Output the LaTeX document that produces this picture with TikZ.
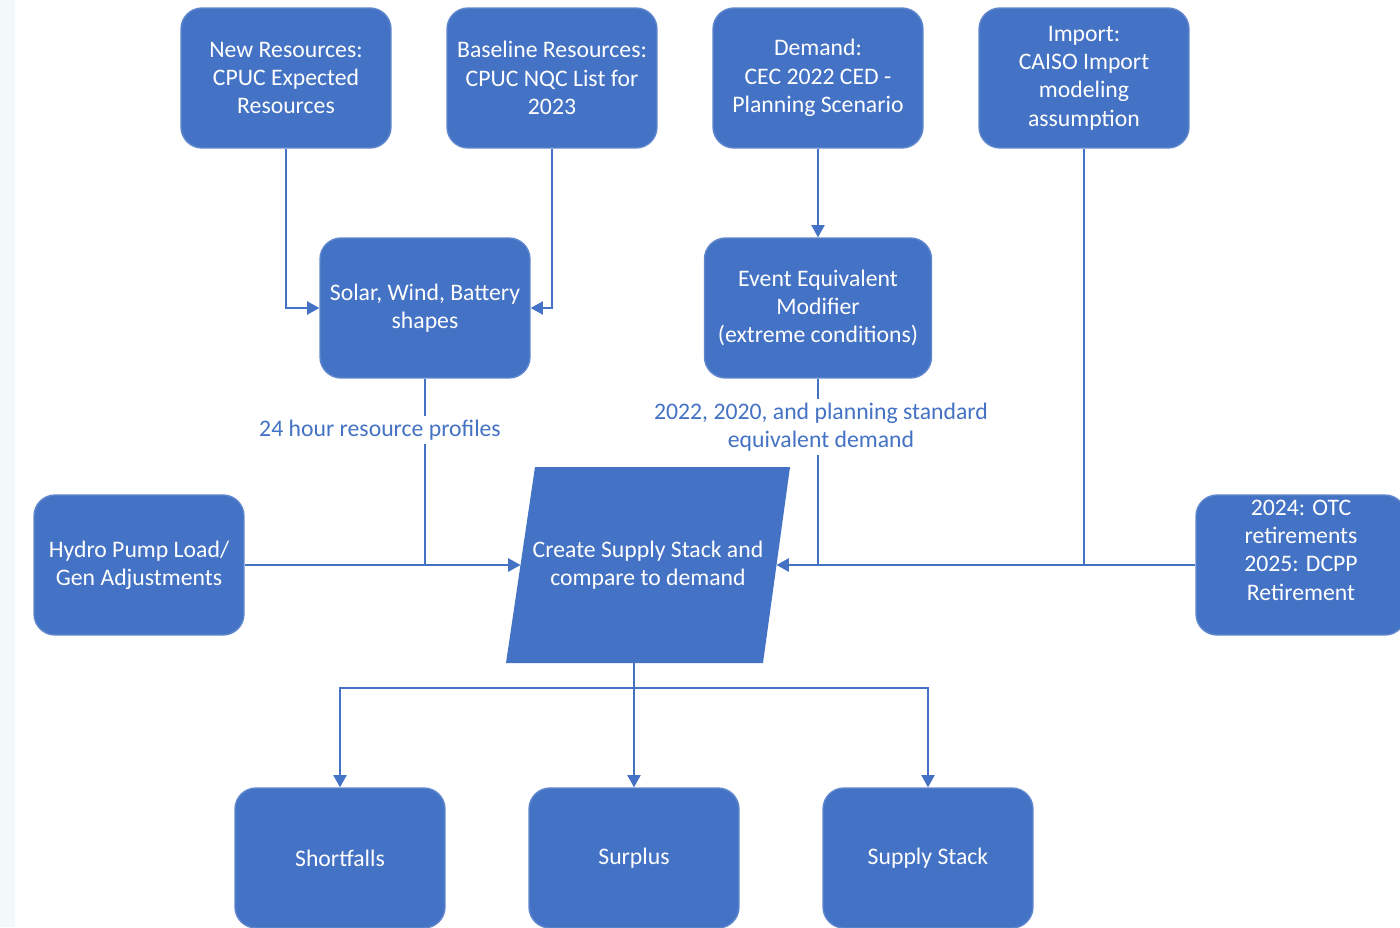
\documentclass[tikz,border=0pt]{standalone}
\usepackage{fontspec}
\setmainfont{Carlito}
\usetikzlibrary{arrows.meta}
\definecolor{boxblue}{HTML}{4472C4}
\definecolor{edgeband}{HTML}{F3F8F9}
\tikzset{
  txt/.style={font=\fontsize{13.5}{16.1}\selectfont},
  box/.style={draw=boxblue!85!white, line width=0.8pt, fill=boxblue, rounded corners=0.42cm,
    minimum width=4.2cm, minimum height=2.8cm, text=white, align=center, txt, inner sep=1pt},
  conn/.style={draw=boxblue, line width=1.1pt},
  arr/.style={conn, -{Triangle[length=7pt,width=7.5pt]}},
  lbl/.style={fill=white, text=boxblue, align=center, inner sep=2pt, txt}
}
\begin{document}
\begin{tikzpicture}[x=0.02cm,y=-0.02cm]
\useasboundingbox (0,0) rectangle (1400,927);
\clip (0,0) rectangle (1400,927);
\fill[white] (0,0) rectangle (1400,927);
\fill[edgeband] (0,0) rectangle (15,927);
% top row
\node[box] (newres) at (286,78) {New Resources:\\CPUC Expected\\Resources};
\node[box] (base) at (552,78) {Baseline Resources:\\CPUC NQC List for\\2023};
\node[box] (demand) at (818,78) {Demand:\\CEC 2022 CED -\\Planning Scenario};
\node[box] (import) at (1084,78) {Import:\\CAISO Import\\modeling\\assumption};
% second row
\node[box] (shapes) at (425,308) {Solar, Wind, Battery\\shapes};
\node[box, minimum width=4.54cm] (event) at (818,308) {Event Equivalent\\Modifier\\(extreme conditions)};
% middle row
\node[box] (hydro) at (139,565) {Hydro Pump Load/\\Gen Adjustments};
\node[box] (retire) at (1301,565) {};
\node[text=white, align=center, txt, inner sep=0pt] (retiretxt) at (1301,550) {2024: OTC\\retirements\\2025: DCPP\\Retirement};
% parallelogram
\fill[boxblue] (535,467) -- (790,467) -- (763,663) -- (506,663) -- cycle;
\node[text=white, align=center, txt] (stack) at (648,565) {Create Supply Stack and\\compare to demand};
\coordinate (stackL) at (520.5,565);
\coordinate (stackR) at (776.5,565);
\coordinate (stackB) at (634,663);
% bottom row
\node[box] (short) at (340,858) {Shortfalls};
\node[box] (surplus) at (634,858) {Surplus};
\node[box] (supply) at (928,858) {Supply Stack};
% connectors top
\draw[arr] (newres.south) |- (shapes.west);
\draw[arr] (base.south) |- (shapes.east);
\draw[arr] (demand.south) -- (event.north);
% into stack
\draw[arr] (shapes.south) |- (stackL);
\draw[conn] (hydro.east) -- (426,565);
\draw[arr] (event.south) |- (stackR);
\draw[conn] (import.south) |- (818,565);
\draw[conn] (retire.west) -- (1084,565);
% labels
\node[lbl] (lab1) at (380,430) {24 hour resource profiles};
\node[lbl] (lab2) at (821,427) {2022, 2020, and planning standard\\equivalent demand};
% outputs
\coordinate (split) at (634,688);
\draw[arr] (stackB) -- (surplus.north);
\draw[arr] (split) -| (short.north);
\draw[arr] (split) -| (supply.north);
\end{tikzpicture}
\end{document}
